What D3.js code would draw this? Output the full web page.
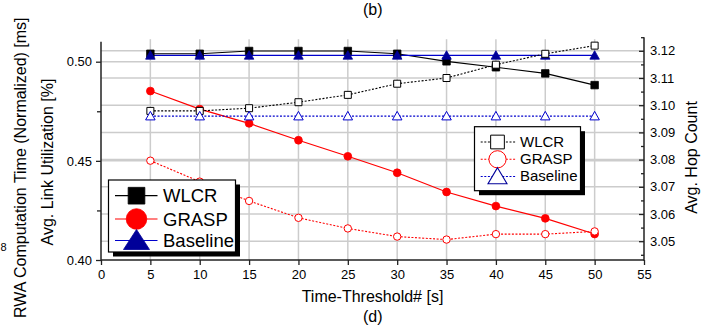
<!DOCTYPE html>
<html><head><meta charset="utf-8">
<script src="https://cdn.jsdelivr.net/npm/d3@7"></script>
<style>
body{margin:0;background:#fff}
svg{display:block}
text{font-family:"Liberation Sans",Arial,Helvetica,sans-serif;fill:#000}
</style>
</head><body>
<svg id="c" width="714" height="331"></svg>
<script>
// ---------- data ----------
const thresholds   = [5, 10, 15, 20, 25, 30, 35, 40, 45, 50];
// left axis: Avg. Link Utilization (filled markers, solid lines)
const utilWLCR     = [0.5040, 0.5040, 0.5054, 0.5054, 0.5054, 0.5040, 0.5002, 0.4972, 0.4941, 0.4882];
const utilGRASP    = [0.4852, 0.4761, 0.4689, 0.4604, 0.4523, 0.4440, 0.4343, 0.4272, 0.4210, 0.4131];
const utilBaseline = [0.5032, 0.5032, 0.5032, 0.5032, 0.5032, 0.5032, 0.5032, 0.5032, 0.5032, 0.5032];
// right axis: Avg. Hop Count (open markers, dotted lines)
const hopWLCR      = [3.0979, 3.0979, 3.0989, 3.1011, 3.1038, 3.1079, 3.1100, 3.1149, 3.1189, 3.1219];
const hopGRASP     = [3.0796, 3.0719, 3.0648, 3.0586, 3.0547, 3.0517, 3.0506, 3.0526, 3.0526, 3.0536];
const hopBaseline  = [3.0960, 3.0960, 3.0960, 3.0960, 3.0960, 3.0960, 3.0960, 3.0960, 3.0960, 3.0960];

const xTicks       = [0, 5, 10, 15, 20, 25, 30, 35, 40, 45, 50, 55];
const leftTicks    = [0.40, 0.45, 0.50];
const leftMinor    = [0.425, 0.475];
const rightTicks   = [3.05, 3.06, 3.07, 3.08, 3.09, 3.10, 3.11, 3.12];
const rightMinor   = [3.045, 3.055, 3.065, 3.075, 3.085, 3.095, 3.105, 3.115, 3.125];
const seriesNames  = ["WLCR", "GRASP", "Baseline"];

// ---------- setup ----------
const svg = d3.select("#c");
const x  = d3.scaleLinear().domain([0, 55]).range([101, 644]);
const yL = d3.scaleLinear().domain([0.40, 0.50]).range([260, 61.7]);
const yR = d3.scaleLinear().domain([3.05, 3.12]).range([241.2, 50.8]);
const plotTop = yR(3.125);
const BLACK = "#000", RED = "#ff0000", BLUE_LINE = "#0000cc", BLUE = "#000099";
const GRID = "#cccccc", AX = "#222";

// ---------- grid ----------
const grid = svg.append("g");
grid.selectAll(".vg").data(xTicks.filter(d => d > 0 && d < 55)).join("line")
  .attr("x1", d => x(d)).attr("x2", d => x(d))
  .attr("y1", 260).attr("y2", plotTop + 2)
  .attr("stroke", GRID).attr("stroke-width", 1.5);
grid.selectAll(".hgl").data(leftTicks.filter(d => d > 0.40)).join("line")
  .attr("x1", x(0)).attr("x2", x(55))
  .attr("y1", d => yL(d)).attr("y2", d => yL(d))
  .attr("stroke", GRID).attr("stroke-width", 1.5);
grid.selectAll(".hgr").data(rightTicks).join("line")
  .attr("x1", x(0)).attr("x2", x(55))
  .attr("y1", d => yR(d)).attr("y2", d => yR(d))
  .attr("stroke", GRID).attr("stroke-width", 1.5);

// ---------- axes ----------
function styleAxis(g) {
  g.select(".domain").remove();
  g.selectAll(".tick line").attr("stroke", AX).attr("stroke-width", 1.3);
  g.selectAll("text").attr("font-size", 13).attr("fill", "#000")
    .attr("font-family", '"Liberation Sans",Arial,sans-serif');
}
const gx = svg.append("g").attr("transform", "translate(0,260)")
  .call(d3.axisBottom(x).tickValues(xTicks).tickFormat(d3.format("d")).tickSize(5).tickPadding(5));
styleAxis(gx);
const gl = svg.append("g").attr("transform", `translate(${x(0)},0)`)
  .call(d3.axisLeft(yL).tickValues(leftTicks).tickFormat(d3.format(".2f")).tickSize(5).tickPadding(4));
styleAxis(gl);
const glm = svg.append("g").attr("transform", `translate(${x(0)},0)`)
  .call(d3.axisLeft(yL).tickValues(leftMinor).tickFormat("").tickSize(4));
styleAxis(glm);
const gr = svg.append("g").attr("transform", `translate(${x(55)},0)`)
  .call(d3.axisRight(yR).tickValues(rightTicks).tickFormat(d3.format(".2f")).tickSizeInner(-5).tickSizeOuter(0).tickPadding(6));
styleAxis(gr);
const grm = svg.append("g").attr("transform", `translate(${x(55)},0)`)
  .call(d3.axisRight(yR).tickValues(rightMinor).tickFormat("").tickSizeInner(-3).tickSizeOuter(0));
styleAxis(grm);
svg.append("line").attr("x1", x(0)).attr("x2", x(55)).attr("y1", 260).attr("y2", 260)
  .attr("stroke", AX).attr("stroke-width", 1.5);
svg.append("line").attr("x1", x(0)).attr("x2", x(0)).attr("y1", 260.7).attr("y2", yL(0.51))
  .attr("stroke", AX).attr("stroke-width", 1.5);
svg.append("line").attr("x1", x(55)).attr("x2", x(55)).attr("y1", 260.7).attr("y2", plotTop)
  .attr("stroke", AX).attr("stroke-width", 1.5);

// ---------- marker helpers ----------
function sqPath(s) { return `M${-s/2},${-s/2}h${s}v${s}h${-s}Z`; }
function triPath(w, h) { return `M0,${-h*0.55}L${w/2},${h*0.45}L${-w/2},${h*0.45}Z`; }
function drawMarker(g, shape, cx, cy, opt) {
  if (shape === "circle") {
    g.append("circle").attr("cx", cx).attr("cy", cy).attr("r", opt.r)
      .attr("fill", opt.fill).attr("stroke", opt.stroke).attr("stroke-width", opt.sw);
  } else {
    const d = shape === "square" ? sqPath(opt.s) : triPath(opt.w, opt.h);
    g.append("path").attr("d", d).attr("transform", `translate(${cx},${cy})`)
      .attr("fill", opt.fill).attr("stroke", opt.stroke).attr("stroke-width", opt.sw);
  }
}

const shapes = ["square", "circle", "triangle"];
const filledStyle = [
  {s: 7.5, fill: BLACK, stroke: BLACK, sw: 0.8, line: BLACK},
  {r: 3.9, fill: RED, stroke: RED, sw: 0.8, line: RED},
  {w: 9.5, h: 8.5, fill: BLUE, stroke: BLUE, sw: 0.8, line: BLUE_LINE}
];
const openStyle = [
  {s: 7, fill: "#fff", stroke: BLACK, sw: 1, line: BLACK},
  {r: 3.7, fill: "#fff", stroke: RED, sw: 1, line: RED},
  {w: 9.5, h: 8.5, fill: "#fff", stroke: BLUE_LINE, sw: 1, line: BLUE_LINE}
];

const filledSeries = [utilWLCR, utilGRASP, utilBaseline];
const openSeries = [hopWLCR, hopGRASP, hopBaseline];

const plot = svg.append("g");
filledSeries.forEach((vals, i) => {
  const line = d3.line().x((d, j) => x(thresholds[j])).y(d => yL(d));
  plot.append("path").datum(vals).attr("d", line).attr("fill", "none")
    .attr("stroke", filledStyle[i].line).attr("stroke-width", 1.2);
});
filledSeries.forEach((vals, i) => {
  const g = plot.append("g");
  vals.forEach((v, j) => drawMarker(g, shapes[i], x(thresholds[j]), yL(v), filledStyle[i]));
});
openSeries.forEach((vals, i) => {
  const line = d3.line().x((d, j) => x(thresholds[j])).y(d => yR(d));
  plot.append("path").datum(vals).attr("d", line).attr("fill", "none")
    .attr("stroke", openStyle[i].line).attr("stroke-width", 1.1).attr("stroke-dasharray", "2,1.6");
});
openSeries.forEach((vals, i) => {
  const g = plot.append("g");
  vals.forEach((v, j) => drawMarker(g, shapes[i], x(thresholds[j]), yR(v), openStyle[i]));
});

// ---------- legends ----------
function legend(box, rows, lineX, mx, textX, fs, baseOff, styles, dashed) {
  const g = svg.append("g");
  g.append("rect").attr("x", box[0] + 4.5).attr("y", box[1] + 4.5).attr("width", box[2]).attr("height", box[3]).attr("fill", "#000");
  g.append("rect").attr("x", box[0]).attr("y", box[1]).attr("width", box[2]).attr("height", box[3])
    .attr("fill", "#fff").attr("stroke", "#000").attr("stroke-width", 1.2);
  seriesNames.forEach((name, i) => {
    const ln = g.append("line").attr("x1", lineX[0]).attr("x2", lineX[1]).attr("y1", rows[i]).attr("y2", rows[i])
      .attr("stroke", styles[i].line).attr("stroke-width", dashed ? 1.1 : 1.2);
    if (dashed) ln.attr("stroke-dasharray", "2,1.6");
    drawMarker(g, shapes[i], mx, rows[i], styles[i]);
    g.append("text").attr("x", textX).attr("y", rows[i] + baseOff).attr("font-size", fs).text(name);
  });
}
legend([108.5, 180, 127, 72], [195.7, 219, 240.5], [115, 157.5], 136.5, 163, 18.5, 6.6,
  [{s: 16.7, fill: BLACK, stroke: BLACK, sw: 0.8, line: BLACK},
   {r: 10.3, fill: RED, stroke: RED, sw: 0.8, line: RED},
   {w: 26, h: 20, fill: BLUE, stroke: BLUE, sw: 0.8, line: BLUE_LINE}], false);
legend([474.5, 126.7, 106, 64], [142, 159.3, 176.5], [480.7, 516], 497.5, 520, 15, 4.8,
  [{s: 13.7, fill: "#fff", stroke: BLACK, sw: 1, line: BLACK},
   {r: 8.6, fill: "#fff", stroke: RED, sw: 1, line: RED},
   {w: 19, h: 16, fill: "#fff", stroke: BLUE, sw: 1.1, line: BLUE_LINE}], true);

// ---------- titles / labels ----------
svg.append("text").attr("x", 372.5).attr("y", 302).attr("text-anchor", "middle").attr("font-size", 16).text("Time-Threshold# [s]");
svg.append("text").attr("x", 363).attr("y", 15).attr("font-size", 16).text("(b)");
svg.append("text").attr("x", 363).attr("y", 322).attr("font-size", 16).text("(d)");
svg.append("text").attr("transform", "translate(53,162) rotate(-90)").attr("text-anchor", "middle")
  .attr("font-size", 16).text("Avg. Link Utilization [%]");
svg.append("text").attr("transform", "translate(25.5,318) rotate(-90)").attr("text-anchor", "start")
  .attr("font-size", 16).text("RWA Computation Time (Normalized) [ms]");
svg.append("text").attr("transform", "translate(696.5,157.5) rotate(-90)").attr("text-anchor", "middle")
  .attr("font-size", 16).text("Avg. Hop Count");
svg.append("text").attr("x", 0.5).attr("y", 250.5).attr("text-anchor", "start").attr("font-size", 11).text("8");
</script>
</body></html>
